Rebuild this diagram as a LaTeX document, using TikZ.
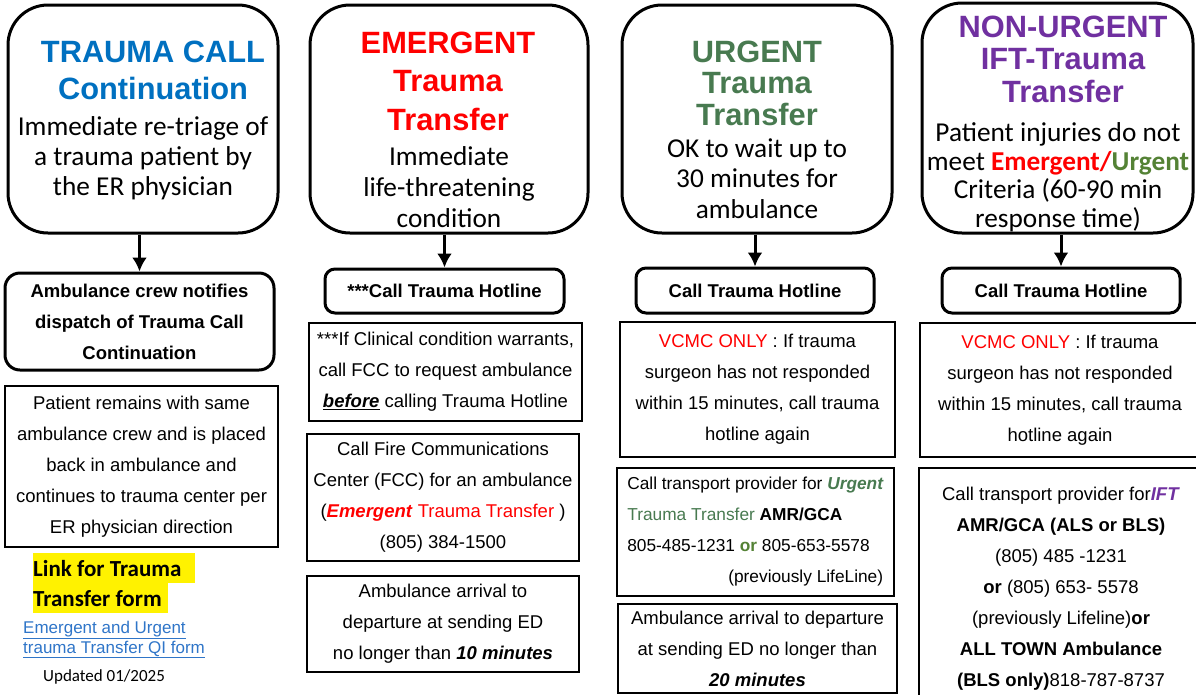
\documentclass[tikz,border=0pt]{standalone}
\usepackage{fontspec}
\setmainfont{Liberation Sans}
\newfontfamily\calibri{Carlito}
\usetikzlibrary{arrows.meta}

\definecolor{tcblue}{RGB}{0,112,192}
\definecolor{urgreen}{RGB}{72,122,80}
\definecolor{orgreen}{RGB}{84,130,53}
\definecolor{nupurple}{RGB}{112,48,160}
\definecolor{linkblue}{RGB}{47,117,200}

\begin{document}
\begin{tikzpicture}[x=1pt,y=-1pt,>={Latex[length=14pt,width=15pt]},
    topbox/.style={draw,line width=3pt,rounded corners=40pt,minimum height=228pt},
    head/.style={anchor=base,align=center,font=\bfseries\fontsize{30.8}{#1}\selectfont},
    desc/.style={anchor=base,align=center,font=\calibri\fontsize{27.3}{#1}\selectfont},
    hot/.style={draw,line width=3pt,rounded corners=10pt,align=center,
        font=\bfseries\fontsize{18.5}{31}\selectfont},
    info/.style={draw,line width=1.5pt,inner sep=0pt,align=center,
        font=\fontsize{18.5}{31}\selectfont},
    hilite/.style={anchor=north west,fill=yellow,inner sep=0pt,minimum height=30pt,
        align=flush left,font=\calibri\bfseries\fontsize{23}{28}\selectfont},
    arr/.style={->,line width=3pt}]
    \useasboundingbox (0,0) rectangle (1196,694);

    % top row
    \node[topbox,minimum width=270pt] (tc) at (143,119) {};
    \node[topbox,minimum width=278pt] (em) at (449,119) {};
    \node[topbox,minimum width=270pt] (ur) at (757,119) {};
    \node[topbox,minimum width=271pt,minimum height=230pt] (nu) at (1057.5,118) {};

    \node[head=37,tcblue] (tchead) at (153,99) {TRAUMA CALL\\Continuation};
    \node[desc=30] (tcdesc) at (143,195) {Immediate re-triage of\\a trauma patient by\\the ER physician};
    \node[head=38.5,red] (emhead) at (448,130) {EMERGENT\\Trauma\\Transfer};
    \node[desc=31] (emdesc) at (449,227) {Immediate\\life-threatening\\condition};
    \node[head=31.5,urgreen] (urhead) at (757,125) {URGENT\\Trauma\\Transfer};
    \node[desc=30.5] (urdesc) at (757,218) {OK to wait up to\\30 minutes for\\ambulance};
    \node[head=32.5,nupurple] (nuhead) at (1063,102) {NON-URGENT\\IFT-Trauma\\Transfer};
    \node[desc=28.5] (nudesc) at (1058,227) {Patient injuries do not\\meet {\bfseries\color{red}Emergent/}{\bfseries\color{orgreen}Urgent}\\Criteria (60-90 min\\response time)};

    % column 1
    \node[hot,rounded corners=15pt,minimum width=269pt,minimum height=97pt] (notify) at (139.5,321.5)
        {Ambulance crew notifies\\dispatch of Trauma Call\\Continuation};
    \node[info,minimum width=273pt,minimum height=161pt] (remains) at (141.5,466.5)
        {Patient remains with same\\ambulance crew and is placed\\back in ambulance and\\continues to trauma center per\\ER physician direction};
    \node[hilite,text width=162pt] (linkA) at (33,553) {Link for Trauma};
    \node[hilite,text width=135pt] (linkB) at (33,583) {Transfer form};
    \node[anchor=base west,inner sep=0pt,align=left,text=linkblue,font=\fontsize{17}{20}\selectfont] (qiform) at (23,653)
        {\underline{Emergent and Urgent}\\\underline{trauma Transfer QI form}};
    \node[anchor=base west,inner sep=0pt,font=\calibri\fontsize{17}{20}\selectfont] (updated) at (43,681) {Updated 01/2025};

    % column 2
    \node[hot,minimum width=239pt,minimum height=44pt] (hotem) at (444.5,291) {***Call Trauma Hotline};
    \node[info,minimum width=273pt,minimum height=98pt] (warrants) at (445.5,372)
        {***If Clinical condition warrants,\\call FCC to request ambulance\\\underline{\textbf{\textit{before}}} calling Trauma Hotline};
    \node[info,minimum width=272pt,minimum height=127pt] (fcc) at (443,497.5)
        {Call Fire Communications\\Center (FCC) for an ambulance\\(\textcolor{red}{\textbf{\textit{Emergent}} Trauma Transfer} )\\(805) 384-1500};
    \node[info,minimum width=272pt,minimum height=96pt] (tenmin) at (443,624)
        {Ambulance arrival to\\departure at sending ED\\no longer than \textbf{\textit{10 minutes}}};

    % column 3
    \node[hot,minimum width=238pt,minimum height=45pt] (hotur) at (755,290.5) {Call Trauma Hotline};
    \node[info,minimum width=275pt,minimum height=135pt] (vcmcur) at (757.5,389.5)
        {\textcolor{red}{VCMC ONLY} : If trauma\\surgeon has not responded\\within 15 minutes, call trauma\\hotline again};
    \node[info,align=left,minimum width=277pt,minimum height=128pt,font=\fontsize{17.3}{31}\selectfont] (transur) at (755.5,532)
        {Call transport provider for \textcolor{urgreen}{\textbf{\textit{Urgent}}}\\\textcolor{urgreen}{Trauma Transfer} \textbf{AMR/GCA}\\805-485-1231 \textcolor{orgreen}{\textbf{or}} 805-653-5578\\\hspace*{101pt}(previously LifeLine)};
    \node[info,minimum width=279pt,minimum height=89pt] (twentymin) at (757.5,648.5)
        {Ambulance arrival to departure\\at sending ED no longer than\\\textbf{\textit{20 minutes}}};

    % column 4
    \node[hot,minimum width=238pt,minimum height=45pt] (hotnu) at (1061,290.5) {Call Trauma Hotline};
    \node[info,minimum width=280pt,minimum height=134pt] (vcmcnu) at (1060,390)
        {\textcolor{red}{VCMC ONLY} : If trauma\\surgeon has not responded\\within 15 minutes, call trauma\\hotline again};
    \node[info,minimum width=284pt,minimum height=242pt] (transnu) at (1061,589)
        {Call transport provider for\textcolor{nupurple}{\textbf{\textit{IFT}}}\\\textbf{AMR/GCA (ALS or BLS)}\\(805) 485 -1231\\\textbf{or} (805) 653- 5578\\(previously Lifeline)\textbf{or}\\\textbf{ALL TOWN Ambulance}\\\textbf{(BLS only)}818-787-8737};

    \draw[arr] (notify.north |- tc.south) -- (notify.north);
    \draw[arr] (hotem.north |- em.south) -- (hotem.north);
    \draw[arr] (hotur.north |- ur.south) -- (hotur.north);
    \draw[arr] (hotnu.north |- nu.south) -- (hotnu.north);
\end{tikzpicture}
\end{document}
